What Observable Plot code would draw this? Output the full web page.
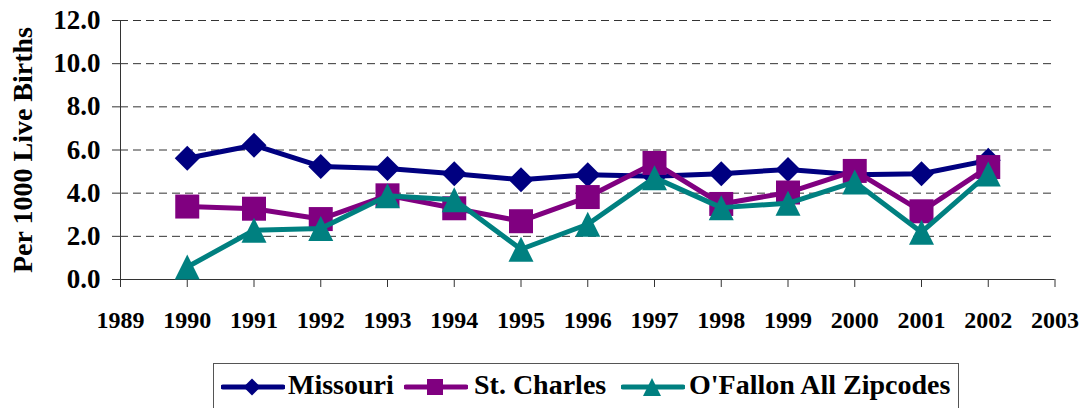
<!DOCTYPE html>
<html><head><meta charset="utf-8">
<script src="https://cdn.jsdelivr.net/npm/d3@7"></script>
<script src="https://cdn.jsdelivr.net/npm/@observablehq/plot@0.6"></script>
<style>
body{margin:0;background:#fff;}
#chart{position:relative;width:1089px;height:408px;overflow:hidden;font-family:"Liberation Serif","Times New Roman",serif;}
#chart svg{display:block}
#legend{position:absolute;left:213px;top:363px;width:746px;height:70px;border:1px solid #555;box-sizing:border-box;}
.sw{position:absolute;top:12px}
.lt{position:absolute;top:6px;font-size:28px;font-weight:bold;color:#000;line-height:30px;white-space:nowrap}
</style></head><body>
<div id="chart"></div>
<script>
// ---- data ----
const years = [1990,1991,1992,1993,1994,1995,1996,1997,1998,1999,2000,2001,2002];
const missouri  = [5.62,6.22,5.24,5.14,4.9,4.62,4.85,4.78,4.9,5.1,4.85,4.9,5.52];
const stCharles = [3.38,3.28,2.8,3.9,3.3,2.7,3.82,5.4,3.5,4.03,5.03,3.16,5.21];
const oFallon   = [0.58,2.28,2.36,3.88,3.7,1.4,2.56,4.72,3.33,3.53,4.52,2.19,4.89];
const seriesNames  = ["Missouri","St. Charles","O'Fallon All Zipcodes"];
const seriesColors = ["#000080","#800080","#008080"];
const xTicks = [1989,1990,1991,1992,1993,1994,1995,1996,1997,1998,1999,2000,2001,2002,2003];
const yTicks = [0,2,4,6,8,10,12];
const yTitle = "Per 1000 Live Births";

// ---- symbols (Excel-like markers) ----
const diamondSym = {draw(ctx,size){const h=Math.sqrt(size)/2;ctx.moveTo(0,-h);ctx.lineTo(h,0);ctx.lineTo(0,h);ctx.lineTo(-h,0);ctx.closePath();}};
const squareSym  = {draw(ctx,size){const h=Math.sqrt(size)/2;ctx.rect(-h,-h,2*h,2*h);}};
const triSym     = {draw(ctx,size){const h=Math.sqrt(size)/2;ctx.moveTo(0,-h);ctx.lineTo(h,h);ctx.lineTo(-h,h);ctx.closePath();}};
const symbols = [diamondSym, squareSym, triSym];
const markerSide = [25, 24, 25];
const legendSide = [17, 16, 18];

const allValues = [missouri, stCharles, oFallon];
const rows = allValues.flatMap((vals, si) => years.map((yr, i) => ({series: seriesNames[si], year: yr, value: vals[i]})));

const seriesMarks = seriesNames.flatMap((name, si) => {
  const data = rows.filter(d => d.series === name);
  return [
    Plot.line(data, {x: "year", y: "value", stroke: seriesColors[si], strokeWidth: 5, strokeLinejoin: "round"}),
    Plot.dot(data, {x: "year", y: "value", fill: seriesColors[si], stroke: "none", symbol: symbols[si], r: markerSide[si] / Math.sqrt(Math.PI)})
  ];
});

const chart = Plot.plot({
  width: 1089, height: 345,
  marginTop: 20, marginBottom: 66, marginLeft: 120, marginRight: 34.5,
  style: {fontFamily: "Liberation Serif, Times New Roman, serif", background: "transparent", color: "#000"},
  x: {domain: [1989, 2003]},
  y: {domain: [0, 12]},
  marks: [
    Plot.gridY(yTicks.filter(d => d > 0), {stroke: "#333", strokeOpacity: 1, strokeWidth: 1, strokeDasharray: "8,5"}),
    Plot.axisY({ticks: yTicks, tickSize: 8, tickPadding: 12, tickFormat: d => d.toFixed(1), fontSize: 27, fontWeight: "bold", stroke: "#333",
      label: yTitle, labelAnchor: "center", labelArrow: false, labelOffset: 108}),
    Plot.axisX({ticks: xTicks, tickSize: 8, tickPadding: 23, tickFormat: d => String(d), fontSize: 24, fontWeight: "bold", stroke: "#333", label: null}),
    Plot.ruleX([1989], {stroke: "#333"}),
    Plot.ruleY([0], {stroke: "#333"}),
    ...seriesMarks
  ]
});
const root = document.getElementById("chart");
root.appendChild(chart);
d3.select(chart).selectAll('g[aria-label="y-axis label"] text').attr("font-size", 28);

// ---- legend ----
const legend = document.createElement("div");
legend.id = "legend";
const swLeft = [7, 190, 407];
const txtLeft = [74, 260, 475];
seriesNames.forEach((name, si) => {
  const sw = d3.create("svg").attr("class", "sw").attr("width", 64).attr("height", 22).style("left", swLeft[si] + "px");
  sw.append("line").attr("x1", 2).attr("x2", 62).attr("y1", 11).attr("y2", 11)
    .attr("stroke", seriesColors[si]).attr("stroke-width", 5).attr("stroke-linecap", "round");
  sw.append("path").attr("transform", "translate(31,11)")
    .attr("d", d3.symbol(symbols[si], legendSide[si] * legendSide[si])())
    .attr("fill", seriesColors[si]);
  legend.appendChild(sw.node());
  const t = document.createElement("span");
  t.className = "lt";
  t.style.left = txtLeft[si] + "px";
  t.textContent = name;
  legend.appendChild(t);
});
root.appendChild(legend);
</script>
</body></html>
